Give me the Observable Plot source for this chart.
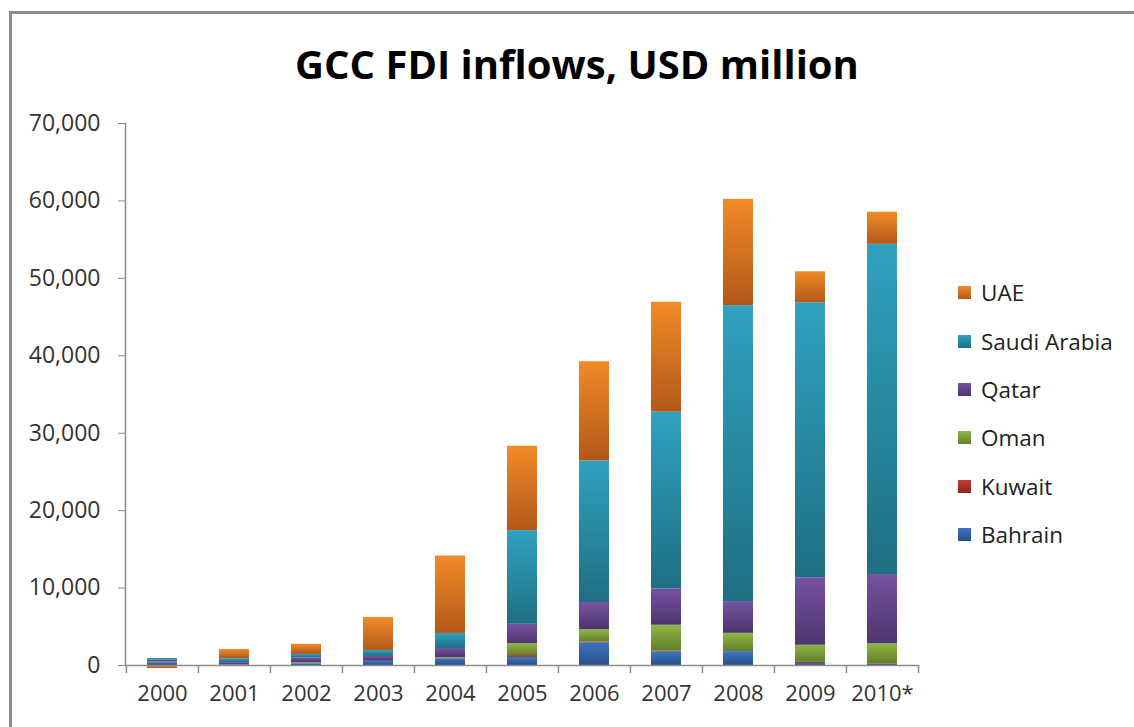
<!DOCTYPE html>
<html><head><meta charset="utf-8">
<script src="https://cdn.jsdelivr.net/npm/d3@7"></script>
<script src="https://cdn.jsdelivr.net/npm/@observablehq/plot@0.6"></script>
<style>
body{margin:0;background:#fff;}
#wrap{position:relative;width:1134px;height:727px;overflow:hidden;font-family:"Open Sans",sans-serif;background:#fff;}
#frame{position:absolute;left:9px;top:11px;width:1150px;height:760px;border:3px solid #8c8c8c;box-sizing:border-box;}
#title{position:absolute;left:10px;width:1134px;top:44px;line-height:40px;text-align:center;font-weight:700;font-size:40px;color:#000;}
#chart{position:absolute;left:0;top:0;}
.lg{position:absolute;left:958px;height:30px;display:flex;align-items:center;font-size:22.5px;color:#222;}
.sw{width:13px;height:13px;margin-right:10px;}
</style></head>
<body>
<div id="wrap">
  <div id="frame"></div>
  <div id="chart"></div>
  <div id="title">GCC FDI inflows, USD million</div>
  <div id="legend"></div>
</div>
<script>
const years = ["2000","2001","2002","2003","2004","2005","2006","2007","2008","2009","2010*"];
const series = ["Bahrain","Kuwait","Oman","Qatar","Saudi Arabia","UAE"];
const bahrain = [364, 80, 217, 517, 865, 1049, 2915, 1756, 1794, 257, 156];
const kuwait  = [16, 0, 4, 0, 24, 234, 121, 112, 0, 145, 81];
const oman    = [83, 5, 122, 26, 111, 1538, 1597, 3332, 2359, 2211, 2560];
const qatar   = [252, 296, 631, 625, 1199, 2500, 3500, 4700, 4100, 8722, 8950];
const saudi   = [183, 504, 453, 778, 1942, 12097, 18293, 22821, 38223, 35514, 42650];
const uae     = [-400, 1184, 1307, 4256, 10004, 10900, 12806, 14187, 13724, 4003, 4150];
const yTicks  = [0, 10000, 20000, 30000, 40000, 50000, 60000, 70000];
const gradTop = ["#3d75c3","#c23b31","#90b743","#7553a2","#2fa2c0","#f28a27"];
const gradBot = ["#284f88","#8c2724","#617f2c","#4d356e","#1f6f83","#b2591a"];
const legendOrder = ["UAE","Saudi Arabia","Qatar","Oman","Kuwait","Bahrain"];

const valuesBySeries = [bahrain, kuwait, oman, qatar, saudi, uae];
const data = [];
series.forEach((s, i) => years.forEach((y, j) => data.push({year: y, country: s, value: valuesBySeries[i][j]})));

const W = 1134, H = 727, mL = 125, mR = 216, mT = 123, mB = 62;
const step = (W - mL - mR) / years.length;

const chart = Plot.plot({
  width: W, height: H,
  marginTop: mT, marginBottom: mB, marginLeft: mL, marginRight: mR,
  style: {fontFamily: "'Open Sans', sans-serif", fontSize: "22px", background: "transparent", overflow: "visible"},
  x: {domain: years, paddingInner: 0.59, paddingOuter: 0.295, label: null, axis: null},
  y: {domain: [0, 70000], label: null, axis: null},
  color: {domain: series, range: series.map((s, i) => `url(#g${i})`)},
  marks: [
    Plot.barY(data, {x: "year", y: "value", fill: "country", order: series}),
    Plot.ruleY([0], {stroke: "#8c8c8c", strokeWidth: 1.5}),
    Plot.frame({anchor: "left", stroke: "#8c8c8c", strokeWidth: 1.5}),
    Plot.ruleX(years, {x: d => d, dx: -step / 2, y1: 0, y2: -1050, stroke: "#8c8c8c", strokeWidth: 1.5}),
    Plot.ruleX([years[years.length - 1]], {x: d => d, dx: step / 2, y1: 0, y2: -1050, stroke: "#8c8c8c", strokeWidth: 1.5}),
    Plot.axisY({ticks: yTicks, tickFormat: d3.format(","), tickSize: 7, tickPadding: 18, stroke: "#8c8c8c", fill: "#333", fontSize: 23, label: null}),
    Plot.axisX({tickSize: 0, tickPadding: 20, fill: "#333", fontSize: 22, label: null})
  ]
});

const svg = d3.select(chart);
const defs = svg.insert("defs", ":first-child");
series.forEach((s, i) => {
  const g = defs.append("linearGradient").attr("id", `g${i}`).attr("x1", 0).attr("y1", 0).attr("x2", 0).attr("y2", 1);
  g.append("stop").attr("offset", "0%").attr("stop-color", gradTop[i]);
  g.append("stop").attr("offset", "100%").attr("stop-color", gradBot[i]);
});
document.getElementById("chart").appendChild(chart);

const legend = document.getElementById("legend");
const rowY = [292, 341, 389, 437, 486, 534];
legendOrder.forEach((name, k) => {
  const i = series.indexOf(name);
  const row = document.createElement("div");
  row.className = "lg";
  row.style.top = (rowY[k] - 15) + "px";
  const sw = document.createElement("div");
  sw.className = "sw";
  sw.style.background = `linear-gradient(${gradTop[i]}, ${gradBot[i]})`;
  const t = document.createElement("span");
  t.textContent = name;
  row.appendChild(sw); row.appendChild(t);
  legend.appendChild(row);
});
</script>
</body></html>
